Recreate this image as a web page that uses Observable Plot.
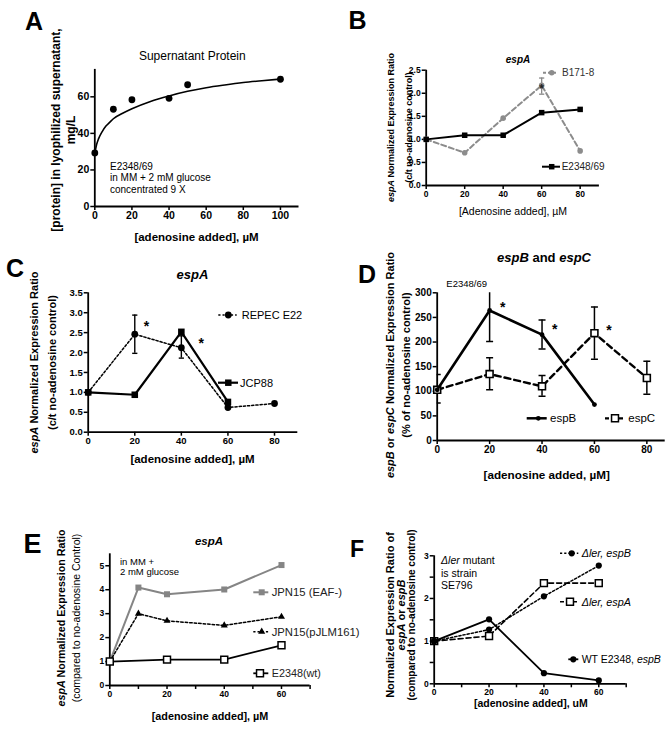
<!DOCTYPE html>
<html><head><meta charset="utf-8">
<script src="https://cdn.jsdelivr.net/npm/d3@7"></script>
<script src="https://cdn.jsdelivr.net/npm/@observablehq/plot@0.6"></script>
<style>
html,body{margin:0;padding:0;background:#fff;overflow:hidden;}
#fig{position:relative;width:665px;height:731px;background:#fff;font-family:"Liberation Sans",Arial,Helvetica,sans-serif;}
#fig svg{position:absolute;overflow:visible;max-width:none;}
</style></head>
<body><div id="fig"></div>
<script>
// ---------------- DATA ----------------
// Panel A
const aX = [0, 10, 20, 40, 50, 100];
const aY = [29.3, 53.2, 58.4, 59.2, 66.6, 69.6];
const aCurveX = [0, 1, 2, 4, 6, 8, 10, 15, 20, 30, 40, 50, 60, 70, 80, 90, 100];
const aCurveY = [29, 34, 37, 41, 44, 46, 48, 51, 53.5, 57.5, 60.5, 63, 65, 66.5, 67.8, 68.8, 69.7];
const aXTicks = [0, 20, 40, 60, 80, 100];
const aYTicks = [0, 20, 40, 60];
// Panel B
const bX = [0, 20, 40, 60, 80];
const bE2348 = [1.0, 1.09, 1.09, 1.58, 1.65];
const bB171 = [1.0, 0.71, 1.46, 2.17, 0.75];
const bErrX = [60], bErrLo = [1.98], bErrHi = [2.33];
const bStarX = [60], bStarY = [2.17];
const bXTicks = [0, 20, 40, 60, 80];
const bYTicks = [0, 0.5, 1.0, 1.5, 2.0, 2.5];
// Panel C
const cRepecX = [0, 20, 40, 60, 80];
const cRepec = [1.0, 2.46, 2.12, 0.62, 0.72];
const cJcpX = [0, 20, 40, 60];
const cJcp = [1.0, 0.94, 2.52, 0.76];
const cErrX = [20, 40], cErrLo = [1.98, 1.86], cErrHi = [2.94, 2.42];
const cStarX = [25, 48.5], cStarY = [2.76, 2.33];
const cXTicks = [0, 20, 40, 60, 80];
const cYTicks = [0, 0.5, 1.0, 1.5, 2.0, 2.5, 3.0, 3.5];
// Panel D
const dBX = [0, 20, 40, 60];
const dEspB = [103, 264, 215, 73];
const dBErrX = [0, 20, 40], dBErrLo = [76, 201, 186], dBErrHi = [134, 330, 245];
const dCX = [0, 20, 40, 60, 80];
const dEspC = [103, 135, 110, 218, 127];
const dCErrX = [20, 40, 60, 80], dCErrLo = [103, 90, 165, 94], dCErrHi = [168, 132, 271, 161];
const dStarX = [25, 44.8, 65.5], dStarY = [278, 233, 232];
const dXTicks = [0, 20, 40, 60, 80];
const dYTicks = [0, 50, 100, 150, 200, 250, 300];
// Panel E
const eX = [0, 10, 20, 40, 60];
const eEAF = [1.0, 4.09, 3.81, 4.01, 5.03];
const ePJLM = [1.0, 3.0, 2.7, 2.51, 2.87];
const eWtX = [0, 20, 40, 60];
const eWt = [1.0, 1.08, 1.08, 1.68];
const eXTicks = [0, 20, 40, 60], eXMinor = [10, 30, 50, 70];
const eYTicks = [0, 1, 2, 3, 4, 5];
// Panel F
const fX = [0, 20, 40, 60];
const fLerB = [1.0, 1.27, 2.05, 2.77];
const fLerA = [1.0, 1.12, 2.36, 2.36];
const fWtB = [1.0, 1.51, 0.25, 0.08];
const fXTicks = [0, 20, 40, 60], fXMinor = [10, 30, 50, 70];
const fYTicks = [0, 1, 2, 3], fYMinor = [0.5, 1.5, 2.5];

// ---------------- HELPERS ----------------
const FONT = '"Liberation Sans", Arial, Helvetica, sans-serif';
const fig = document.getElementById('fig');
const capSym = {draw(ctx, size){ const r = Math.sqrt(size/Math.PI); ctx.moveTo(-r,0); ctx.lineTo(r,0); }};

function mount(svg, left, top){ svg.style.left = left+'px'; svg.style.top = top+'px'; fig.appendChild(svg); }

function axes(o){
  const pad = o.pad ?? 1.5;
  const m = [
    Plot.axisX({ticks:o.xt, tickSize:4, tickPadding:pad, fontSize:o.fs, fontWeight:'bold', strokeWidth:1.5, label:null, tickFormat:o.xf||(d=>d)}),
    Plot.axisY({ticks:o.yt, tickSize:4, tickPadding:1.5, fontSize:o.fs, fontWeight:'bold', strokeWidth:1.5, label:null, tickFormat:o.yf||(d=>d)}),
  ];
  if (o.xm) m.push(Plot.axisX({ticks:o.xm, tickSize:4, strokeWidth:1.5, label:null, tickFormat:()=>''}));
  if (o.ym) m.push(Plot.axisY({ticks:o.ym, tickSize:4, strokeWidth:1.5, label:null, tickFormat:()=>''}));
  m.push(Plot.ruleX([0], {strokeWidth:1.8}), Plot.ruleY([0], {strokeWidth:1.8}));
  return m;
}
function errbars(xs, lo, hi, capR, sw, extra={}){
  const idx = xs.map((_, i) => i);
  return [
    Plot.ruleX(idx, {x:i=>xs[i], y1:i=>lo[i], y2:i=>hi[i], strokeWidth:sw, ...extra}),
    Plot.dot(idx, {x:i=>xs[i], y:i=>lo[i], symbol:capSym, r:capR, stroke:'black', strokeWidth:sw, fill:'none', ...extra}),
    Plot.dot(idx, {x:i=>xs[i], y:i=>hi[i], symbol:capSym, r:capR, stroke:'black', strokeWidth:sw, fill:'none', ...extra}),
  ];
}
const base = {style:{fontFamily:FONT, background:'none', color:'black', overflow:'visible'}};

// ---------------- PANEL A ----------------
mount(Plot.plot({...base, width:330, height:245, marginLeft:94.3, marginRight:31.5, marginTop:68.9, marginBottom:39,
  x:{domain:[0,110]}, y:{domain:[0,75]},
  marks:[
    ...axes({xt:aXTicks, yt:aYTicks, fs:10.5}),
    Plot.line(aCurveX, {x:aCurveX, y:aCurveY, curve:'monotone-x', strokeWidth:1.6, stroke:'black'}),
    Plot.dot(aX, {x:aX, y:aY, r:3.4, fill:'black'})
  ]}), 0, 0);

// ---------------- PANEL B ----------------
mount(Plot.plot({...base, width:335, height:240, marginLeft:95.7, marginRight:66.1, marginTop:69.7, marginBottom:55,
  x:{domain:[0,90]}, y:{domain:[0,2.5]},
  marks:[
    ...axes({xt:bXTicks, yt:bYTicks, fs:8.5, yf:d3.format('.1f')}),
    ...errbars(bErrX, bErrLo, bErrHi, 2.6, 1.3, {stroke:'#888'}),
    Plot.line(bX, {x:bX, y:bB171, stroke:'#8c8c8c', strokeWidth:2, strokeDasharray:'5,3'}),
    Plot.dot(bX, {x:bX, y:bB171, r:2.8, fill:'#8c8c8c'}),
    Plot.line(bX, {x:bX, y:bE2348, stroke:'black', strokeWidth:2}),
    Plot.dot(bX, {x:bX, y:bE2348, r:3.1, symbol:'square', fill:'black'}),
    Plot.text(bStarX, {x:bStarX, y:bStarY, text:()=>'*', fontSize:12, fontWeight:'bold', dy:3.5, fill:'#222'})
  ]}), 330, 0);

// ---------------- PANEL C ----------------
mount(Plot.plot({...base, width:330, height:250, marginLeft:87.7, marginRight:32.7, marginTop:52.3, marginBottom:58.3,
  x:{domain:[0,90]}, y:{domain:[0,3.5]},
  marks:[
    ...axes({xt:cXTicks, yt:cYTicks, fs:9.5, yf:d3.format('.1f')}),
    ...errbars(cErrX, cErrLo, cErrHi, 2.6, 1.4),
    Plot.line(cRepecX, {x:cRepecX, y:cRepec, stroke:'black', strokeWidth:1.5, strokeDasharray:'2.2,2'}),
    Plot.dot(cRepecX, {x:cRepecX, y:cRepec, r:3.4, fill:'black'}),
    Plot.line(cJcpX, {x:cJcpX, y:cJcp, stroke:'black', strokeWidth:2.2}),
    Plot.dot(cJcpX, {x:cJcpX, y:cJcp, r:3.7, symbol:'square', fill:'black'}),
    Plot.text(cStarX, {x:cStarX, y:cStarY, text:()=>'*', fontSize:14, fontWeight:'bold', dy:4})
  ]}), 0, 240);

// ---------------- PANEL D ----------------
mount(Plot.plot({...base, width:335, height:250, marginLeft:106.7, marginRight:0.3, marginTop:52.3, marginBottom:50,
  x:{domain:[0,87]}, y:{domain:[0,300]},
  marks:[
    ...axes({xt:dXTicks, yt:dYTicks, fs:10}),
    ...errbars(dBErrX, dBErrLo, dBErrHi, 3.5, 1.5, {clip:true}),
    ...errbars(dCErrX, dCErrLo, dCErrHi, 3.5, 1.5, {clip:true}),
    Plot.line(dCX, {x:dCX, y:dEspC, stroke:'black', strokeWidth:2.4, strokeDasharray:'6,4'}),
    Plot.dot(dCX, {x:dCX, y:dEspC, r:3.9, symbol:'square', fill:'white', stroke:'black', strokeWidth:1.6}),
    Plot.line(dBX, {x:dBX, y:dEspB, stroke:'black', strokeWidth:2.6}),
    Plot.dot(dBX, {x:dBX, y:dEspB, r:2.4, fill:'black'}),
    Plot.text(dStarX, {x:dStarX, y:dStarY, text:()=>'*', fontSize:14, fontWeight:'bold', dy:4})
  ]}), 330, 240);

// ---------------- PANEL E ----------------
mount(Plot.plot({...base, width:330, height:241, marginLeft:109.3, marginRight:20.4, marginTop:63.3, marginBottom:46,
  x:{domain:[0,70]}, y:{domain:[0,5.5]},
  marks:[
    ...axes({xt:eXTicks, yt:eYTicks, xm:eXMinor, fs:8.5}),
    Plot.line(eX, {x:eX, y:eEAF, stroke:'#858585', strokeWidth:2}),
    Plot.dot(eX, {x:eX, y:eEAF, r:3.4, symbol:'square', fill:'#858585'}),
    Plot.line(eX, {x:eX, y:ePJLM, stroke:'black', strokeWidth:1.5, strokeDasharray:'2.5,2'}),
    Plot.dot(eX, {x:eX, y:ePJLM, r:2.6, symbol:'triangle', fill:'black'}),
    Plot.line(eWtX, {x:eWtX, y:eWt, stroke:'black', strokeWidth:1.8}),
    Plot.dot(eWtX, {x:eWtX, y:eWt, r:3.9, symbol:'square', fill:'white', stroke:'black', strokeWidth:1.5})
  ]}), 0, 490);

// ---------------- PANEL F ----------------
mount(Plot.plot({...base, width:335, height:241, marginLeft:103.7, marginRight:39.3, marginTop:65.3, marginBottom:47.7,
  x:{domain:[0,70]}, y:{domain:[0,3]},
  marks:[
    ...axes({xt:fXTicks, yt:fYTicks, xm:fXMinor, ym:fYMinor, fs:8.5, pad:1}),
    Plot.line(fX, {x:fX, y:fLerA, stroke:'black', strokeWidth:1.6, strokeDasharray:'5,3'}),
    Plot.dot(fX, {x:fX, y:fLerA, r:3.9, symbol:'square', fill:'white', stroke:'black', strokeWidth:1.5}),
    Plot.line(fX, {x:fX, y:fLerB, stroke:'black', strokeWidth:1.5, strokeDasharray:'2.2,2'}),
    Plot.dot(fX, {x:fX, y:fLerB, r:3.1, fill:'black'}),
    Plot.line(fX, {x:fX, y:fWtB, stroke:'black', strokeWidth:1.8}),
    Plot.dot(fX, {x:fX, y:fWtB, r:3.1, fill:'black'})
  ]}), 330, 490);

// ---------------- OVERLAY TEXT / LEGENDS ----------------
const ov = d3.select(fig).append('svg').attr('width',665).attr('height',731)
  .style('left','0px').style('top','0px').style('pointer-events','none')
  .attr('font-family', FONT);

function T(x, y, segs, o={}){
  const t = ov.append('text').attr('x',x).attr('y',y)
    .attr('font-size',o.size||10).attr('font-weight',o.weight||'normal')
    .attr('text-anchor',o.anchor||'start').attr('fill',o.fill||'black');
  if (o.italic) t.attr('font-style','italic');
  if (o.rotate) t.attr('transform',`rotate(-90 ${x} ${y})`);
  (typeof segs === 'string' ? [[segs]] : segs).forEach(([s, st]) => {
    const ts = t.append('tspan').text(s);
    if (st === 'i') ts.attr('font-style','italic');
  });
  return t;
}
function leg(x1, x2, y, line, sym, sx, tx, segs, o={}){
  ov.append('line').attr('x1',x1).attr('x2',x2).attr('y1',y).attr('y2',y)
    .attr('stroke',line.stroke||'black').attr('stroke-width',line.w||1.8)
    .attr('stroke-dasharray',line.dash||null);
  ov.append('path').attr('d', d3.symbol().type(sym.type).size(sym.size)())
    .attr('transform',`translate(${sx},${y})`)
    .attr('fill',sym.fill||'black').attr('stroke',sym.stroke||'none').attr('stroke-width',sym.sw||1.5);
  T(tx, y + (o.size||10)*0.36, segs, o);
}

// panel letters
T(25, 29.5, 'A', {size:25, weight:'bold'});
T(348.5, 28.5, 'B', {size:25, weight:'bold'});
T(6, 277, 'C', {size:25, weight:'bold'});
T(358, 283.3, 'D', {size:25, weight:'bold'});
T(23.5, 553.3, 'E', {size:27, weight:'bold'});
T(350, 556.7, 'F', {size:23, weight:'bold'});

// titles
T(192.3, 59.5, 'Supernatant Protein', {size:12, anchor:'middle'});
T(518, 62.5, 'espA', {size:10, weight:'bold', italic:true, anchor:'middle'});
T(192.5, 278.5, 'espA', {size:13, weight:'bold', italic:true, anchor:'middle'});
T(544, 262, [['espB','i'],[' and '],['espC','i']], {size:13, weight:'bold', anchor:'middle'});
T(209, 545, 'espA', {size:11.5, weight:'bold', italic:true, anchor:'middle'});

// x labels
T(196.5, 240.5, '[adenosine added], µM', {size:11.5, weight:'bold', anchor:'middle'});
T(513, 215, '[Adenosine added], µM', {size:10.5, anchor:'middle'});
T(192.5, 463, '[adenosine added], µM', {size:11.5, weight:'bold', anchor:'middle'});
T(546.7, 479, '[adenosine added, µM]', {size:11.7, weight:'bold', anchor:'middle'});
T(210, 720, '[adenosine added], µM', {size:10.8, weight:'bold', anchor:'middle'});
T(530.8, 707, '[adenosine added], uM', {size:10.5, weight:'bold', anchor:'middle'});

// y labels (rotated)
const R = {rotate:true, anchor:'middle'};
T(59.5, 130, '[protein] in lyophilized supernatant,', {...R, size:12, weight:'bold'});
T(75, 130, 'mg/L', {...R, size:12, weight:'bold'});
T(394, 127.5, [['espA','i'],[' Normalized Expression Ratio']], {...R, size:9, weight:'bold'});
T(412, 127.5, '(c/t no-adenosine control)', {...R, size:9, weight:'bold'});
T(37.6, 362.5, [['espA','i'],[' Normalized Expression Ratio']], {...R, size:11, weight:'bold'});
T(55.6, 362.5, '(c/t no-adenosine control)', {...R, size:11, weight:'bold'});
T(393.6, 365, [['espB','i'],[' or '],['espC','i'],[' Normalized Expression Ratio']], {...R, size:11, weight:'bold'});
T(409.6, 365, '(% of no-adenosine control)', {...R, size:11, weight:'bold'});
T(65.2, 618, [['espA','i'],[' Normalized Expression Ratio']], {...R, size:10.7, weight:'bold'});
T(79.5, 618, '(compared to no-adenosine Control)', {...R, size:10.5});
T(393.6, 615, 'Normalized Expression Ratio of', {...R, size:11, weight:'bold'});
T(404.6, 615, [['espA','i'],[' or '],['espB','i']], {...R, size:11, weight:'bold'});
T(415.3, 615, '(compared to no-adenosine control)', {...R, size:10, weight:'bold'});

// annotations
T(110, 169.5, 'E2348/69', {size:10});
T(110, 181, 'in MM + 2 mM glucose', {size:10});
T(110, 192.5, 'concentrated 9 X', {size:10});
T(466.7, 286.5, 'E2348/69', {size:9.5, anchor:'middle'});
T(120, 564.5, 'in MM +', {size:9.5});
T(120, 575, '2 mM glucose', {size:9.5});
T(441, 564, [['Δler','i'],[' mutant']], {size:10.5});
T(441, 576.5, 'is strain', {size:10.5});
T(441, 589, 'SE796', {size:10.5});

// legends
const SQ = d3.symbolSquare, CI = d3.symbolCircle, TR = d3.symbolTriangle;
leg(543, 557, 72.7, {stroke:'#8c8c8c', w:2, dash:'3,2'}, {type:CI, size:24, fill:'#8c8c8c'}, 551.7, 562, 'B171-8', {size:10, fill:'#333'});
leg(542, 560, 166.7, {w:2}, {type:SQ, size:30}, 551.7, 561.7, 'E2348/69', {size:10, fill:'#222'});
leg(218.3, 236.7, 315, {w:1.5, dash:'2.2,2'}, {type:CI, size:36}, 228.3, 241.7, 'REPEC E22', {size:11});
leg(218, 238, 382.7, {w:2.2}, {type:SQ, size:42}, 228.3, 240, 'JCP88', {size:11});
leg(526.7, 546.7, 418.3, {w:2.5}, {type:CI, size:18}, 538.3, 550, 'espB', {size:11.5});
leg(605, 623.3, 418.3, {w:2.2, dash:'4,3'}, {type:SQ, size:48, fill:'white', stroke:'black', sw:1.5}, 615, 628.3, 'espC', {size:11.5});
leg(253.3, 268.3, 592.3, {stroke:'#858585', w:2}, {type:SQ, size:36, fill:'#858585'}, 261.7, 271.7, 'JPN15 (EAF-)', {size:11.3, fill:'#222'});
leg(253.3, 268.3, 631.7, {w:1.5, dash:'2.2,2'}, {type:TR, size:22}, 261.7, 271.7, 'JPN15(pJLM161)', {size:11.3, fill:'#222'});
leg(253.3, 268.3, 673.3, {w:1.8}, {type:SQ, size:48, fill:'white', stroke:'black', sw:1.5}, 260, 271.7, 'E2348(wt)', {size:10.8, fill:'#222'});
leg(560, 578.3, 553.3, {w:1.5, dash:'2.2,2'}, {type:CI, size:30}, 571.7, 581.7, 'Δler, espB', {size:10.8, italic:true});
leg(560, 578.3, 601.7, {w:1.6, dash:'4,2.5'}, {type:SQ, size:48, fill:'white', stroke:'black', sw:1.5}, 570, 581.7, 'Δler, espA', {size:10.8, italic:true});
leg(568.3, 578.3, 659.3, {w:1.8}, {type:CI, size:30}, 573.3, 581.7, [['WT E2348, '],['espB','i']], {size:10.5});
</script>
</body></html>
